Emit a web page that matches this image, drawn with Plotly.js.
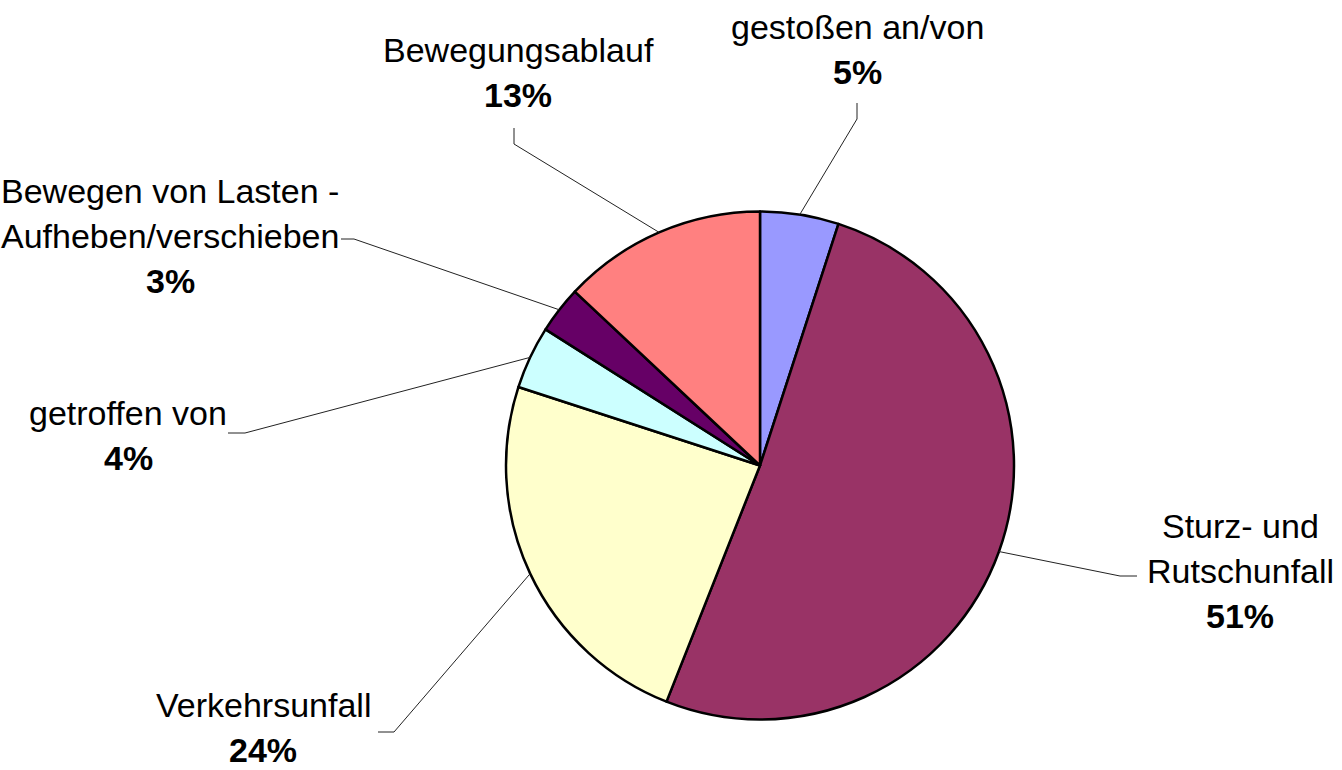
<!DOCTYPE html>
<html>
<head>
<meta charset="utf-8">
<script src="https://cdn.plot.ly/plotly-3.0.1.min.js"></script>
<style>html, body { margin: 0; padding: 0; background: #fff; }</style>
</head>
<body>
<div id="chart" style="width:1342px;height:770px"></div>
<script>
// slice data, clockwise from 12 o'clock
var categories = ['gestoßen an/von', 'Sturz- und Rutschunfall', 'Verkehrsunfall', 'getroffen von', 'Bewegen von Lasten - Aufheben/verschieben', 'Bewegungsablauf'];
var labelLines = [['gestoßen an/von'], ['Sturz- und', 'Rutschunfall'], ['Verkehrsunfall'], ['getroffen von'], ['Bewegen von Lasten -', 'Aufheben/verschieben'], ['Bewegungsablauf']];
var shares = [5, 51, 24, 4, 3, 13];
var colors = ['#9999FF', '#993366', '#FFFFCC', '#CCFFFF', '#660066', '#FF8080'];

// layout (pixels)
var W = 1342, H = 770;
var cx = 760, cy = 465.5, R = 254;
var lineGap = 45;
// first text line centre of each label
var labelAnchor = [[857, 27], [1240, 526], [263, 705], [128, 413], [170, 191], [518, 50]];
// leader line knee and end
var leaderKnee = [[857, 119, 857, 103], [1120, 576, 1137, 576], [394, 732, 378, 732], [245, 433, 228, 433], [354, 239, 341, 239], [514, 144, 514, 128]];

function px(x) { return x / W; }
function py(y) { return 1 - y / H; }

var font = {family: 'Liberation Sans, Arial, sans-serif', size: 34, color: '#000'};

var total = shares.reduce(function(a, b) { return a + b; }, 0);
var annotations = [];
var shapes = [];
var cum = 0;
for (var i = 0; i < shares.length; i++) {
  // leader starts on the rim at the slice's mid angle
  var mid = (cum + shares[i] / 2) / total * 2 * Math.PI;
  cum += shares[i];
  var sx = cx + R * Math.sin(mid);
  var sy = cy - R * Math.cos(mid);
  var k = leaderKnee[i];
  shapes.push({
    type: 'path', xref: 'paper', yref: 'paper',
    path: 'M ' + px(sx) + ',' + py(sy) + ' L ' + px(k[0]) + ',' + py(k[1]) + ' L ' + px(k[2]) + ',' + py(k[3]),
    line: {color: '#222', width: 1}
  });

  var lines = labelLines[i].concat(['<b>' + shares[i] + '%</b>']);
  for (var j = 0; j < lines.length; j++) {
    annotations.push({
      xref: 'paper', yref: 'paper',
      x: px(labelAnchor[i][0]), y: py(labelAnchor[i][1] + j * lineGap),
      xanchor: 'center', yanchor: 'middle',
      text: lines[j], showarrow: false, font: font
    });
  }
}

var trace = {
  type: 'pie',
  labels: categories,
  values: shares,
  sort: false,
  direction: 'clockwise',
  rotation: 0,
  textinfo: 'none',
  hoverinfo: 'skip',
  marker: {colors: colors, line: {color: '#000', width: 2.5}},
  domain: {x: [px(cx - R), px(cx + R)], y: [py(cy + R), py(cy - R)]}
};

var layout = {
  width: W, height: H,
  margin: {l: 0, r: 0, t: 0, b: 0},
  paper_bgcolor: '#fff',
  showlegend: false,
  annotations: annotations,
  shapes: shapes
};

Plotly.newPlot('chart', [trace], layout, {displayModeBar: false, staticPlot: true});
</script>
</body>
</html>
